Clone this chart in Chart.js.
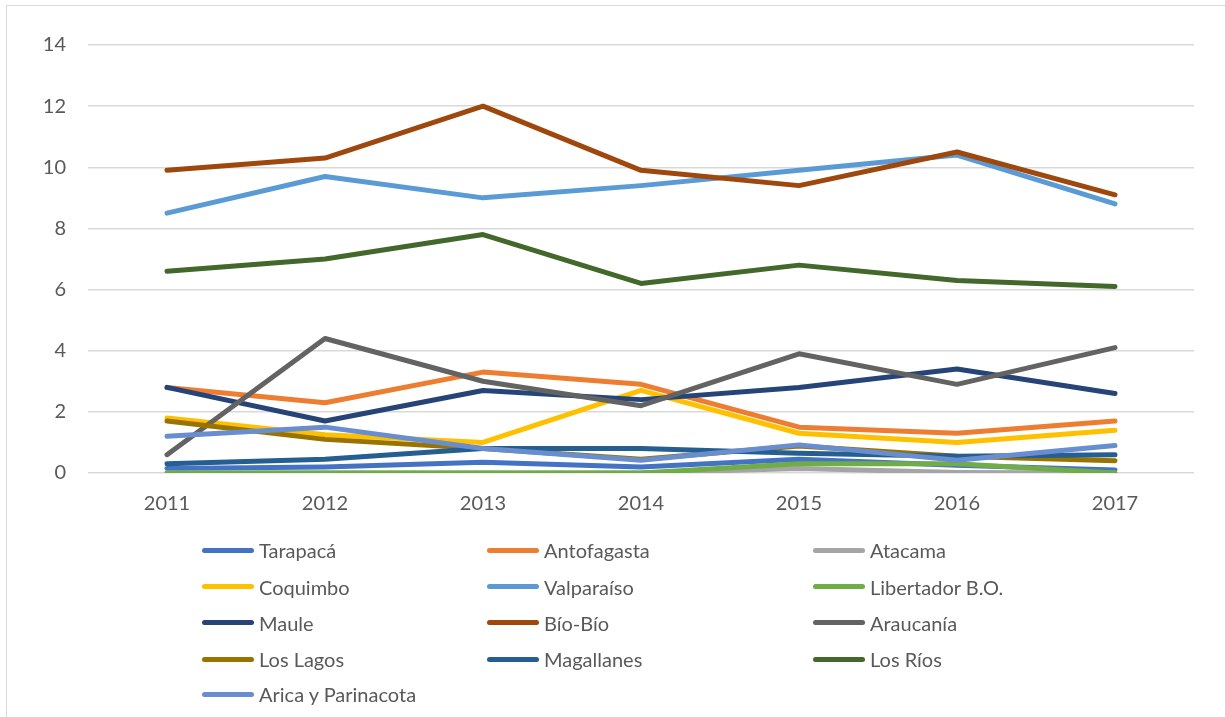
<!DOCTYPE html>
<html>
<head>
<meta charset="utf-8">
<script src="https://cdn.jsdelivr.net/npm/chart.js@4/dist/chart.umd.min.js"></script>
<style>
  html, body { margin: 0; padding: 0; background: #fff; overflow: hidden; }
  #wrap { position: relative; width: 1225px; height: 717px; }
  #frame { position: absolute; left: 6px; top: 5px; width: 1240px; height: 730px; border: 1px solid #d9d9d9; box-sizing: border-box; }
  #chart { position: absolute; left: 0; top: 0; }
  .item { position: absolute; height: 24px; display: flex; align-items: center; font-family: Lato, sans-serif; font-size: 20px; color: #595959; white-space: nowrap; }
  .swatch { width: 52px; height: 5px; border-radius: 3px; margin-right: 5px; }
</style>
</head>
<body>
<div id="wrap">
  <div id="frame"></div>
  <canvas id="chart" width="1225" height="717"></canvas>
  <div id="legend"></div>
</div>
<script>
var years = ['2011', '2012', '2013', '2014', '2015', '2016', '2017'];

var tarapaca    = [0.15, 0.2, 0.35, 0.2, 0.45, 0.25, 0.1];
var antofagasta = [2.8, 2.3, 3.3, 2.9, 1.5, 1.3, 1.7];
var atacama     = [0, 0, 0, 0, 0.15, 0.02, 0];
var coquimbo    = [1.8, 1.25, 1.0, 2.7, 1.3, 1.0, 1.4];
var valparaiso  = [8.5, 9.7, 9.0, 9.4, 9.9, 10.4, 8.8];
var libertador  = [0, 0, 0, 0, 0.3, 0.3, 0];
var maule       = [2.8, 1.7, 2.7, 2.4, 2.8, 3.4, 2.6];
var biobio      = [9.9, 10.3, 12.0, 9.9, 9.4, 10.5, 9.1];
var araucania   = [0.6, 4.4, 3.0, 2.2, 3.9, 2.9, 4.1];
var losLagos    = [1.7, 1.1, 0.8, 0.45, 0.88, 0.55, 0.4];
var magallanes  = [0.3, 0.45, 0.8, 0.8, 0.65, 0.55, 0.6];
var losRios     = [6.6, 7.0, 7.8, 6.2, 6.8, 6.3, 6.1];
var arica       = [1.2, 1.5, 0.8, 0.42, 0.92, 0.42, 0.9];

var seriesNames = ['Tarapacá', 'Antofagasta', 'Atacama', 'Coquimbo', 'Valparaíso', 'Libertador B.O.',
    'Maule', 'Bío-Bío', 'Araucanía', 'Los Lagos', 'Magallanes', 'Los Ríos', 'Arica y Parinacota'];
var seriesData = [tarapaca, antofagasta, atacama, coquimbo, valparaiso, libertador,
    maule, biobio, araucania, losLagos, magallanes, losRios, arica];
var seriesColors = ['#4472C4', '#ED7D31', '#A5A5A5', '#FFC000', '#5B9BD5', '#70AD47',
    '#264478', '#9E480E', '#636363', '#997300', '#255E91', '#43682B', '#698ED0'];

var yTicks = [0, 2, 4, 6, 8, 10, 12, 14];

var datasets = seriesNames.map(function (name, i) {
    return {
        label: name,
        data: seriesData[i],
        borderColor: seriesColors[i],
        backgroundColor: seriesColors[i],
        borderWidth: 5,
        borderCapStyle: 'round',
        borderJoinStyle: 'round',
        pointRadius: 0,
        tension: 0,
        fill: false,
        order: seriesNames.length - i // later series drawn on top, like Excel
    };
});

var ctx = document.getElementById('chart').getContext('2d');
var chart = new Chart(ctx, {
    type: 'line',
    data: {
        labels: years,
        datasets: datasets
    },
    options: {
        responsive: false,
        animation: false,
        layout: {
            padding: { left: 0, top: 45, right: 31, bottom: 0 }
        },
        scales: {
            x: {
                offset: true,
                grid: { display: false, drawTicks: false },
                border: { display: false },
                ticks: {
                    color: '#595959',
                    padding: 19,
                    font: { family: 'Lato', size: 20 }
                },
                afterFit: function (scale) { scale.height = 244; }
            },
            y: {
                min: 0,
                max: 14,
                afterBuildTicks: function (scale) {
                    scale.ticks = yTicks.map(function (v) { return { value: v }; });
                },
                grid: {
                    color: '#d9d9d9',
                    lineWidth: 1.5,
                    drawTicks: false
                },
                border: { display: false },
                ticks: {
                    color: '#595959',
                    padding: 22,
                    font: { family: 'Lato', size: 20 }
                },
                afterFit: function (scale) { scale.width = 88; }
            }
        },
        plugins: {
            legend: { display: false },
            tooltip: { enabled: false }
        }
    }
});

// legend laid out like the Excel one: 3 columns
var colLeft = [202, 487, 813];
var rowTop = [538, 574.5, 610.5, 647, 682];
var legend = document.getElementById('legend');
seriesNames.forEach(function (name, i) {
    var item = document.createElement('div');
    item.className = 'item';
    item.style.left = colLeft[i % 3] + 'px';
    item.style.top = rowTop[Math.floor(i / 3)] + 'px';
    var sw = document.createElement('span');
    sw.className = 'swatch';
    sw.style.background = seriesColors[i];
    item.appendChild(sw);
    item.appendChild(document.createTextNode(name));
    legend.appendChild(item);
});
</script>
</body>
</html>
